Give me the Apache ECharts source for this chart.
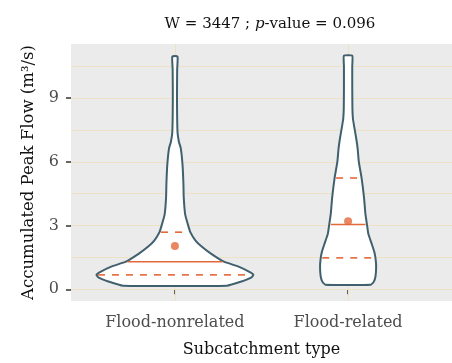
<!DOCTYPE html>
<html>
<head>
<meta charset="utf-8">
<script src="https://cdn.jsdelivr.net/npm/echarts@6/dist/echarts.min.js"></script>
<style>html,body{margin:0;padding:0;background:#fff}#c{width:452px;height:363px}</style>
</head>
<body>
<div id="c"></div>
<script>
const categories = ['Flood-nonrelated', 'Flood-related'];
const yTicks = [0, 3, 6, 9];
const gridValues = [0, 1.5, 3, 4.5, 6, 7.5, 9, 10.5];

// Violin outline: value levels and half-widths (in x-axis units)
const nonrelatedY  = [0.17, 0.37, 0.55, 0.68, 0.82, 1.07, 1.30, 1.68, 2.00, 2.31, 2.69, 3.08, 3.54, 4.32, 5.00, 5.86, 6.64, 6.95, 7.41, 8.96, 10.35, 10.96];
const nonrelatedHW = [0.300, 0.385, 0.440, 0.453, 0.430, 0.368, 0.283, 0.208, 0.156, 0.118, 0.089, 0.074, 0.059, 0.051, 0.049, 0.044, 0.034, 0.023, 0.015, 0.012, 0.013, 0.015];
const relatedY  = [0.22, 0.35, 0.60, 1.07, 1.48, 1.80, 2.15, 2.61, 3.05, 3.55, 4.32, 5.24, 6.00, 6.64, 7.10, 7.72, 8.03, 8.50, 9.50, 10.50, 11.00];
const relatedHW = [0.132, 0.148, 0.158, 0.162, 0.158, 0.150, 0.136, 0.117, 0.109, 0.100, 0.092, 0.078, 0.062, 0.055, 0.047, 0.034, 0.028, 0.025, 0.024, 0.024, 0.024];

const q1Values     = [0.68, 1.48];
const medianValues = [1.30, 3.05];
const q3Values     = [2.69, 5.24];
const meanValues   = [2.04, 3.20];

const violinY = [nonrelatedY, relatedY];
const violinHW = [nonrelatedHW, relatedHW];

const OUTLINE = '#40606e';
const ORANGE = '#e2693b';
const FONT = 'DejaVu Serif';

function hwAt(ys, hws, y) {
  if (y <= ys[0]) return hws[0];
  for (let k = 1; k < ys.length; k++) {
    if (y <= ys[k]) {
      const t = (y - ys[k - 1]) / (ys[k] - ys[k - 1]);
      return hws[k - 1] + t * (hws[k] - hws[k - 1]);
    }
  }
  return hws[hws.length - 1];
}

function renderViolin(params, api) {
  const i = params.dataIndex;
  const cx = api.value(0);
  const ys = violinY[i], hws = violinHW[i];
  const pts = [];
  for (let k = 0; k < ys.length; k++) pts.push(api.coord([cx + hws[k], ys[k]]));
  for (let k = ys.length - 1; k >= 0; k--) pts.push(api.coord([cx - hws[k], ys[k]]));
  const children = [{
    type: 'polygon',
    shape: { points: pts, smooth: 0.15 },
    style: { fill: '#ffffff', stroke: OUTLINE, lineWidth: 2, lineJoin: 'round' }
  }];
  const qs = [[q1Values[i], true], [medianValues[i], false], [q3Values[i], true]];
  qs.forEach(([q, dashed]) => {
    const w = hwAt(ys, hws, q);
    const a = api.coord([cx - w, q]);
    const b = api.coord([cx + w, q]);
    children.push({
      type: 'line',
      shape: { x1: a[0] + 1.5, y1: a[1], x2: b[0] - 1.5, y2: b[1] },
      style: { stroke: ORANGE, lineWidth: 1.6, lineDash: dashed ? [7, 7] : null }
    });
  });
  return { type: 'group', children };
}

const chart = echarts.init(document.getElementById('c'), null, { renderer: 'canvas' });
chart.setOption({
  animation: false,
  title: {
    text: '{n|W = 3447 ; }{i|p}{n|-value = 0.096}',
    left: 265, top: 12, textAlign: 'center',
    textStyle: {
      fontWeight: 'normal', fontSize: 15, fontFamily: FONT,
      rich: {
        n: { fontFamily: FONT, fontSize: 15, color: '#111', fontWeight: 'normal' },
        i: { fontFamily: FONT, fontSize: 15, color: '#111', fontWeight: 'normal', fontStyle: 'italic' }
      }
    }
  },
  grid: { left: 71, right: -7, top: 44, bottom: 58, show: true, backgroundColor: '#ebebeb', borderWidth: 0 },
  xAxis: {
    type: 'value', min: 0.4, max: 2.6,
    axisLine: { show: false },
    splitLine: { show: false },
    axisTick: { show: true, customValues: [1, 2], length: 5, lineStyle: { color: '#333', width: 1.5 } },
    axisLabel: {
      customValues: [1, 2], margin: 14,
      formatter: v => categories[Math.round(v) - 1] || '',
      fontFamily: FONT, fontSize: 16, color: '#4d4d4d'
    },
    name: 'Subcatchment type', nameLocation: 'middle', nameGap: 41,
    nameTextStyle: { fontFamily: FONT, fontSize: 16, color: '#111' }
  },
  yAxis: {
    type: 'value', min: -0.55, max: 11.55,
    axisLine: { show: false },
    splitLine: { show: false },
    axisTick: { show: true, customValues: yTicks, length: 5, lineStyle: { color: '#333', width: 1.5 } },
    axisLabel: { customValues: yTicks, margin: 12, fontFamily: FONT, fontSize: 16, color: '#4d4d4d' },
    name: 'Accumulated Peak Flow (m³/s)', nameLocation: 'middle', nameGap: 34,
    nameTextStyle: { fontFamily: FONT, fontSize: 16.5, color: '#111' }
  },
  series: [
    {
      type: 'line', data: [], z: 1, silent: true,
      markLine: {
        z: 1, silent: true, symbol: 'none', label: { show: false },
        lineStyle: { color: '#ede2c4', width: 1, type: 'solid' },
        data: gridValues.map(v => ({ yAxis: v })).concat([{ xAxis: 1 }, { xAxis: 2 }])
      }
    },
    {
      type: 'custom', z: 6, renderItem: renderViolin,
      data: categories.map((c, i) => [i + 1]),
      encode: { x: 0 }
    },
    {
      type: 'scatter', z: 7, symbol: 'circle', symbolSize: 8,
      itemStyle: { color: ORANGE },
      data: meanValues.map((m, i) => [i + 1, m])
    }
  ]
});
</script>
</body>
</html>
